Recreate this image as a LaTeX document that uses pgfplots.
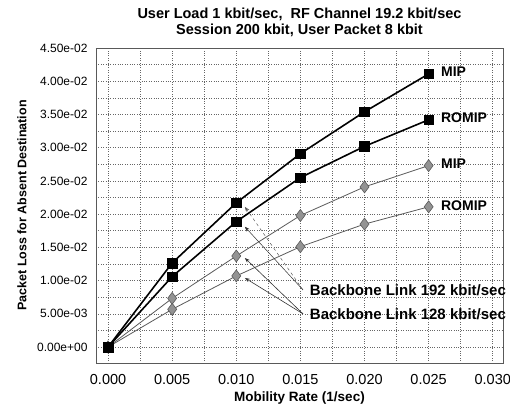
\documentclass[border=0pt]{standalone}
\usepackage{pgfplots}
\pgfplotsset{compat=1.18}
\usepackage{fontspec}
\setmainfont{Liberation Sans}
\usetikzlibrary{arrows.meta}
\begin{document}
\begin{tikzpicture}
\begin{axis}[
  scale only axis,
  width=407pt, height=315pt,
  xmin=-0.00094, xmax=0.0308,
  ymin=-0.0024, ymax=0.045,
  scaled ticks=false,
  xtick={0,0.005,0.010,0.015,0.020,0.025,0.030},
  xticklabels={0.000,0.005,0.010,0.015,0.020,0.025,0.030},
  ytick={0,0.005,0.010,0.015,0.020,0.025,0.030,0.035,0.040,0.045},
  yticklabels={0.00e+00,5.00e-03,1.00e-02,1.50e-02,2.00e-02,2.50e-02,3.00e-02,3.50e-02,4.00e-02,4.50e-02},
  minor x tick num=1, minor y tick num=1,
  grid=both,
  major grid style={black!60, dotted, line width=0.6pt},
  minor grid style={black!60, dotted, line width=0.6pt},
  major tick length=0pt, minor tick length=0pt,
  axis line style={black!65, line width=0.8pt},
  x tick label style={font=\fontsize{14.5}{15}\selectfont, yshift=-8pt},
  y tick label style={font=\fontsize{12}{13}\selectfont, xshift=-5pt},
  xlabel={\bfseries Mobility Rate (1/sec)},
  ylabel={\bfseries Packet Loss for Absent Destination},
  xlabel style={font=\fontsize{13.5}{14}\selectfont, at={(axis description cs:0.5,-0.111)}, anchor=center},
  ylabel style={font=\fontsize{12.5}{13}\selectfont, at={(axis description cs:-0.182,0.5)}, anchor=center},
  title={\bfseries User Load 1 kbit/sec,\ \ RF Channel 19.2 kbit/sec\\\bfseries Session 200 kbit, User Packet 8 kbit},
  title style={font=\fontsize{14.5}{15.5}\selectfont, align=center, at={(axis description cs:0.5,1.062)}, anchor=center},
  clip=false,
]
\coordinate (sw) at (rel axis cs:0,0);
\coordinate (ne) at (rel axis cs:1,1);
% 128 kbit/sec diamonds
\addplot[gray!70!black, line width=0.8pt, mark=diamond*, mark size=6pt,
  mark options={fill=gray!85, draw=black!65, line width=0.6pt}]
  coordinates {(0,0) (0.005,0.00733) (0.010,0.0137) (0.015,0.0198) (0.020,0.0241) (0.025,0.0273)};
\addplot[gray!70!black, line width=0.8pt, mark=diamond*, mark size=6pt,
  mark options={fill=gray!85, draw=black!65, line width=0.6pt}]
  coordinates {(0,0) (0.005,0.00568) (0.010,0.0107) (0.015,0.0151) (0.020,0.0185) (0.025,0.0211)};
% 192 kbit/sec squares
\addplot[black, line width=1.6pt, mark=square*, mark size=4.8pt, mark options={fill=black, line width=0.5pt}]
  coordinates {(0,0) (0.005,0.01265) (0.010,0.0217) (0.015,0.0291) (0.020,0.0354) (0.025,0.0411)};
\addplot[black, line width=1.6pt, mark=square*, mark size=4.8pt, mark options={fill=black, line width=0.5pt}]
  coordinates {(0,0) (0.005,0.0106) (0.010,0.01887) (0.015,0.0255) (0.020,0.0302) (0.025,0.0342)};
% labels
\node[anchor=west, font=\fontsize{14}{15}\selectfont\bfseries] at (axis cs:0.0257,0.0414) {MIP};
\node[anchor=west, font=\fontsize{14}{15}\selectfont\bfseries] at (axis cs:0.0257,0.0345) {ROMIP};
\node[anchor=west, font=\fontsize{14}{15}\selectfont\bfseries] at (axis cs:0.0257,0.0276) {MIP};
\node[anchor=west, font=\fontsize{14}{15}\selectfont\bfseries] at (axis cs:0.0257,0.0212) {ROMIP};
\node[anchor=west, font=\fontsize{15}{16}\selectfont\bfseries, inner sep=0pt] at (axis cs:0.01573,0.00858) {Backbone Link 192 kbit/sec};
\node[anchor=west, font=\fontsize{15}{16}\selectfont\bfseries, inner sep=0pt] at (axis cs:0.01573,0.00497) {Backbone Link 128 kbit/sec};
% arrows
\draw[gray!70!black, line width=0.5pt, dashed, -{Stealth[length=5pt]}] (axis cs:0.0152,0.0086) -- (axis cs:0.01067,0.0211);
\draw[black!80, line width=0.5pt, -{Stealth[length=5pt]}] (axis cs:0.0152,0.0086) -- (axis cs:0.01067,0.0181);
\draw[black!80, line width=0.6pt, -{Stealth[length=5pt]}] (axis cs:0.0152,0.0050) -- (axis cs:0.01067,0.0134);
\draw[black!80, line width=0.6pt, -{Stealth[length=5pt]}] (axis cs:0.0152,0.0050) -- (axis cs:0.01067,0.0104);
\end{axis}
\pgfresetboundingbox
\path[use as bounding box] ([xshift=-96pt,yshift=-47pt]sw) rectangle ([xshift=7pt,yshift=48pt]ne);
\end{tikzpicture}
\end{document}
